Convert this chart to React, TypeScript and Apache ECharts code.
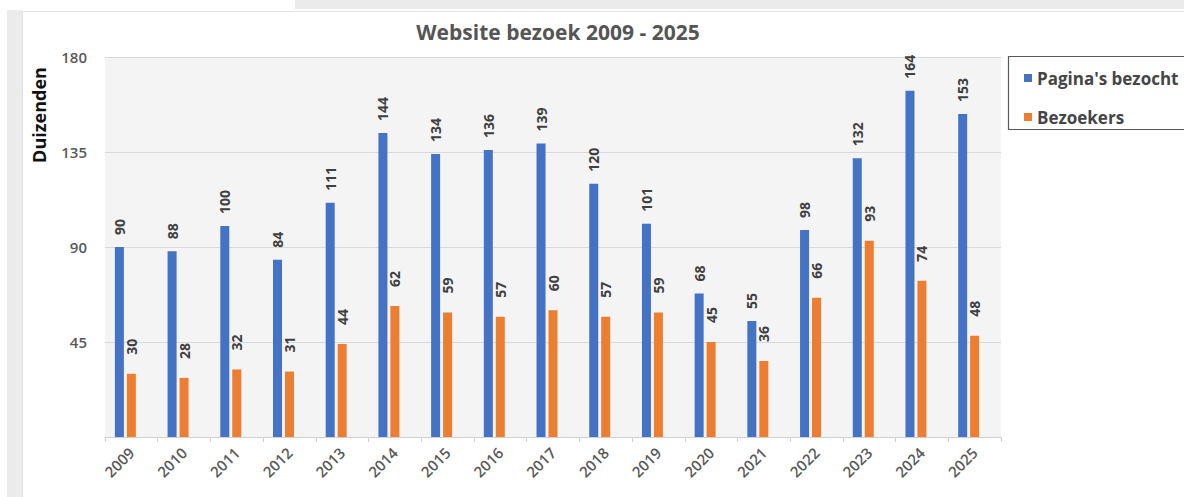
import React, { useEffect, useRef } from "react";
import * as echarts from "echarts";

const years = ["2009","2010","2011","2012","2013","2014","2015","2016","2017","2018","2019","2020","2021","2022","2023","2024","2025"];
const paginas = [90, 88, 100, 84, 111, 144, 134, 136, 139, 120, 101, 68, 55, 98, 132, 164, 153];
const bezoekers = [30, 28, 32, 31, 44, 62, 59, 57, 60, 57, 59, 45, 36, 66, 93, 74, 48];
const emptySeries: number[] = [];
const yTicks = [0, 45, 90, 135, 180];

const FONT = "'Open Sans', 'Noto Sans', sans-serif";

export default function App() {
  const ref = useRef<HTMLDivElement>(null);
  useEffect(() => {
    if (!ref.current) return;
    const chart = echarts.init(ref.current, null, { renderer: "svg" });
    const labelBase = {
      show: true,
      position: "top" as const,
      rotate: 90,
      align: "left" as const,
      verticalAlign: "middle" as const,
      fontFamily: FONT,
      fontSize: 14,
      fontWeight: "bold" as const,
      color: "#404040",
    };
    chart.setOption({
      animation: false,
      backgroundColor: "#ffffff",
      textStyle: { fontFamily: FONT },
      title: {
        text: "Website bezoek 2009 - 2025",
        left: 553,
        textAlign: "center",
        top: 16,
        textStyle: { fontFamily: FONT, fontSize: 21, fontWeight: "bold", color: "#555555" },
      },
      graphic: [
        { type: "rect", shape: { x: 295, y: 0, width: 889, height: 9 }, style: { fill: "#ebebeb" }, silent: true },
        { type: "rect", shape: { x: 7, y: 10, width: 15, height: 487 }, style: { fill: "#ebebeb" }, silent: true },
        { type: "line", shape: { x1: 22, y1: 11.5, x2: 1184, y2: 11.5 }, style: { stroke: "#e2e2e2", lineWidth: 1 }, silent: true },
        { type: "line", shape: { x1: 22.5, y1: 11, x2: 22.5, y2: 497 }, style: { stroke: "#e2e2e2", lineWidth: 1 }, silent: true },
        { type: "rect", shape: { x: 1008.5, y: 56.5, width: 200, height: 73 }, style: { fill: "#ffffff", stroke: "#595959", lineWidth: 1.2 }, silent: true, z: 0 },
        {
          type: "text",
          x: 39,
          y: 115,
          rotation: Math.PI / 2,
          style: { text: "Duizenden", fontFamily: FONT, fontSize: 18, fontWeight: "bold", fill: "#111111", align: "center", verticalAlign: "middle" },
          silent: true,
        },
      ],
      legend: {
        data: ["Pagina's bezocht", "Bezoekers"],
        orient: "vertical",
        left: 1019,
        top: 62,
        icon: "rect",
        itemWidth: 8,
        itemHeight: 8,
        itemGap: 17,
        itemTextGap: 7,
        z: 5,
        textStyle: { fontFamily: FONT, fontSize: 17, fontWeight: "bold", color: "#454545", lineHeight: 22 },
      },
      grid: {
        left: 105,
        right: 183,
        top: 57,
        bottom: 60,
        show: true,
        backgroundColor: "#f4f4f4",
        borderWidth: 0,
      },
      xAxis: {
        type: "category",
        data: years,
        boundaryGap: true,
        axisLine: { show: true, lineStyle: { color: "#d0d0d0", width: 1 } },
        axisTick: { show: true, length: 5, lineStyle: { color: "#d0d0d0" } },
        axisLabel: { rotate: 45, margin: 13, fontFamily: FONT, fontSize: 15, fontWeight: 600, color: "#595959" },
      },
      yAxis: {
        type: "value",
        min: yTicks[0],
        max: yTicks[yTicks.length - 1],
        interval: 45,
        axisLine: { show: false },
        axisTick: { show: false },
        splitLine: { lineStyle: { color: "#d9d9d9", width: 1 } },
        axisLabel: {
          margin: 18,
          fontFamily: FONT,
          fontSize: 15,
          fontWeight: 600,
          color: "#595959",
          formatter: (v: number) => (v === 0 ? "" : String(v)),
        },
      },
      series: [
        {
          name: "Pagina's bezocht",
          type: "bar",
          data: paginas,
          barWidth: 9,
          barGap: "33%",
          barCategoryGap: "35%",
          itemStyle: { color: "#4472C4" },
          label: { ...labelBase, distance: 12 },
        },
        {
          name: "Bezoekers",
          type: "bar",
          data: bezoekers,
          barWidth: 9,
          barGap: "33%",
          itemStyle: { color: "#ED7D31" },
          label: { ...labelBase, distance: 19 },
        },
        {
          name: "",
          type: "bar",
          data: emptySeries,
          barWidth: 9,
          barGap: "33%",
          itemStyle: { color: "#A5A5A5" },
        },
      ],
    });
    return () => chart.dispose();
  }, []);
  return <div ref={ref} style={{ position: "fixed", left: 0, top: 0, width: 1184, height: 497 }} />;
}
